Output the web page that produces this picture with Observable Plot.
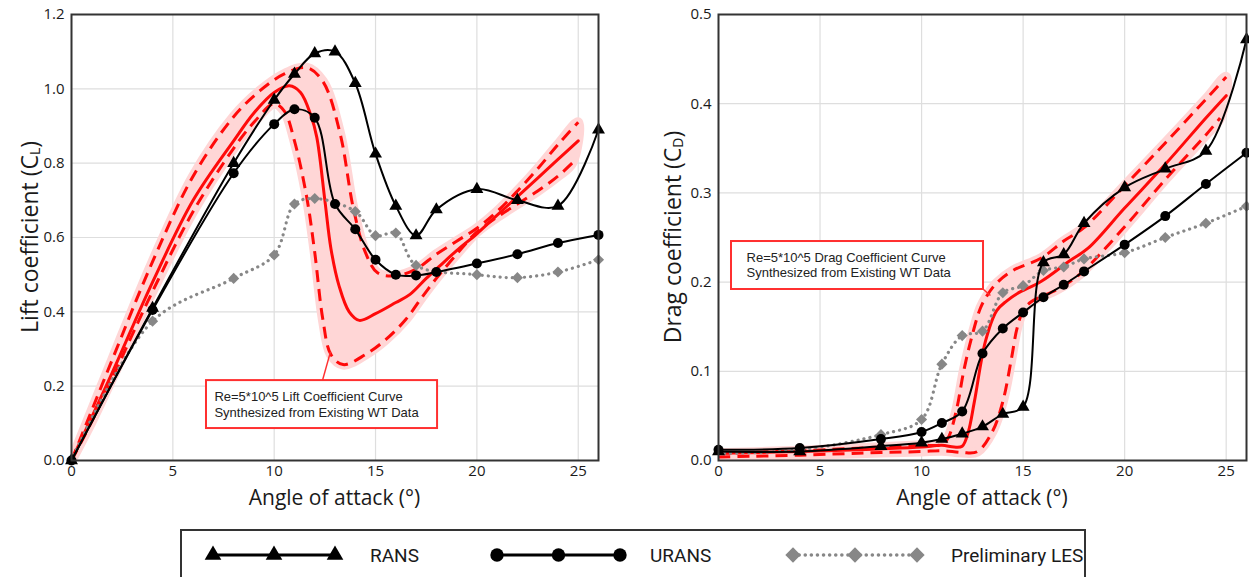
<!DOCTYPE html>
<html><head><meta charset="utf-8">
<script src="https://cdn.jsdelivr.net/npm/d3@7"></script>
<script src="https://cdn.jsdelivr.net/npm/@observablehq/plot@0.6"></script>
<style>
html,body{margin:0;padding:0;background:#fff;}
body{width:1249px;height:577px;overflow:hidden;position:relative;font-family:"Open Sans",sans-serif;}
#lift{position:absolute;left:0;top:0;}
#drag{position:absolute;left:647px;top:0;}
#legend{position:absolute;left:0;top:0;}
</style></head><body>
<div id="lift"></div><div id="drag"></div>
<svg id="legend" width="1249" height="577"></svg>
<script>
// ---------- shared ticks / labels ----------
const xTicks = [0, 5, 10, 15, 20, 25];
const liftTicks = [0, 0.2, 0.4, 0.6, 0.8, 1.0, 1.2];
const dragTicks = [0, 0.1, 0.2, 0.3, 0.4, 0.5];
const legendLabels = ["RANS", "URANS", "Preliminary LES"];

// ---------- Lift coefficient data [angle, CL] ----------
const liftRANS = [[0,0],[4,0.41],[8,0.80],[10,0.97],[11,1.04],[12,1.095],[13,1.10],[14,1.015],[15,0.825],[16,0.685],[17,0.605],[18,0.675],[20,0.73],[22,0.70],[24,0.685],[26,0.89]];
const liftURANS = [[0,0],[4,0.405],[8,0.773],[10,0.905],[11,0.945],[12,0.922],[13,0.69],[14,0.622],[15,0.54],[16,0.50],[17,0.498],[18,0.507],[20,0.53],[22,0.555],[24,0.585],[26,0.607]];
const liftLES = [[0,0],[4,0.375],[8,0.49],[10,0.553],[11,0.69],[12,0.705],[14,0.67],[15,0.605],[16,0.612],[17,0.525],[20,0.50],[22,0.492],[24,0.507],[26,0.54]];
const liftWT = [[0,0],[2,0.235],[4,0.48],[6,0.70],[8,0.86],[9,0.935],[10,0.99],[10.75,1.008],[11.3,0.99],[11.8,0.93],[12.1,0.87],[12.5,0.70],[12.8,0.57],[13.2,0.47],[13.7,0.40],[14.2,0.377],[15,0.395],[16,0.425],[16.7,0.447],[17.5,0.49],[18.2,0.525],[19,0.565],[20,0.61],[21,0.66],[22,0.71],[23,0.76],[24,0.81],[25,0.86]];
const liftWTUpper = [[0,0],[1,0.135],[2,0.27],[4,0.535],[6,0.765],[8,0.925],[9.3,0.995],[10.5,1.04],[11.6,1.057],[12.4,1.02],[13.25,0.88],[13.9,0.68],[14.5,0.56],[15.1,0.505],[16,0.497],[17,0.515],[18,0.555],[19,0.59],[20,0.625],[21,0.67],[22,0.725],[23,0.785],[24,0.85],[25,0.91]];
const liftWTLower = [[0,0],[1,0.105],[2,0.22],[4,0.455],[6,0.67],[8,0.84],[9,0.91],[10,0.96],[10.5,0.94],[11,0.86],[11.6,0.71],[12,0.56],[12.4,0.38],[12.8,0.285],[13.4,0.258],[14.5,0.285],[15.5,0.325],[16.5,0.38],[17.3,0.44],[18,0.49],[19,0.555],[20,0.615],[21,0.655],[22,0.69],[23,0.725],[24,0.765],[24.7,0.80]];
const liftNoteText = ["Re=5*10^5 Lift Coefficient Curve", "Synthesized from Existing WT Data"];

// ---------- Drag coefficient data [angle, CD] ----------
const dragRANS = [[0,0.01],[4,0.01],[8,0.016],[10,0.02],[11,0.024],[12,0.03],[13,0.038],[14,0.052],[15,0.06],[16,0.222],[17,0.231],[18,0.266],[20,0.306],[22,0.327],[24,0.347],[26,0.472]];
const dragURANS = [[0,0.012],[4,0.014],[8,0.024],[10,0.032],[11,0.042],[12,0.055],[13,0.12],[14,0.148],[15,0.166],[16,0.183],[17,0.197],[18,0.212],[20,0.242],[22,0.274],[24,0.31],[26,0.345]];
const dragLES = [[0,0.008],[4,0.012],[8,0.029],[10,0.046],[11,0.108],[12,0.14],[13,0.145],[14,0.188],[15,0.196],[16,0.213],[17,0.217],[18,0.226],[20,0.233],[22,0.25],[24,0.266],[26,0.285]];
const dragWT = [[0,0.008],[4,0.01],[8,0.013],[10,0.015],[11,0.017],[11.6,0.015],[12,0.016],[12.3,0.032],[12.6,0.066],[13.15,0.134],[13.7,0.168],[14.2,0.179],[14.7,0.187],[15.9,0.201],[17.3,0.224],[18.2,0.238],[20,0.283],[22,0.332],[24,0.384],[25,0.409]];
const dragWTUpper = [[0,0.008],[4,0.011],[8,0.015],[10,0.017],[11,0.018],[11.3,0.025],[11.7,0.055],[12.1,0.103],[12.5,0.141],[12.9,0.171],[13.2,0.184],[13.7,0.199],[14.5,0.213],[15.9,0.227],[17,0.246],[18,0.261],[20,0.308],[22,0.356],[24,0.405],[25,0.43]];
const dragWTLower = [[0,0.004],[4,0.006],[8,0.009],[10,0.01],[11,0.011],[12,0.009],[12.75,0.01],[13.5,0.033],[14,0.066],[14.4,0.111],[14.7,0.148],[15,0.168],[15.4,0.178],[16.7,0.192],[17.8,0.209],[20,0.262],[22,0.315],[24,0.365],[24.7,0.384]];
const dragNoteText = ["Re=5*10^5 Drag Coefficient Curve", "Synthesized from Existing WT Data"];

// ---------- helpers ----------
const P = arr => arr.map(([a, v]) => ({a, v}));
const RED = "#ff0a0a", PINK = "#ffd6d6", GRAY = "#878787", NOTE = "#ff3030";

function makeChart(cfg) {
  const band = P(cfg.upper).concat(P(cfg.lower).reverse());
  const svg = Plot.plot({
    width: cfg.width, height: 520,
    marginLeft: 71, marginRight: cfg.marginRight, marginTop: 14, marginBottom: 60,
    style: {fontFamily: "'Open Sans', sans-serif", fontSize: "15px", color: "#1a1a1a", background: "white"},
    x: {domain: [0, 26], label: null},
    y: {domain: [0, cfg.yMax], label: null},
    marks: [
      Plot.gridX(xTicks, {stroke: "#dedede", strokeOpacity: 1, strokeWidth: 1.2}),
      Plot.gridY(cfg.yTicks, {stroke: "#dedede", strokeOpacity: 1, strokeWidth: 1.2}),
      Plot.line(band, {x: "a", y: "v", fill: PINK, stroke: PINK, strokeWidth: 10, curve: "catmull-rom", clip: true}),
      Plot.line(P(cfg.upper), {x: "a", y: "v", stroke: RED, strokeWidth: 3, strokeDasharray: "12,7", strokeLinecap: "butt", curve: "catmull-rom"}),
      Plot.line(P(cfg.lower), {x: "a", y: "v", stroke: RED, strokeWidth: 3, strokeDasharray: "12,7", strokeLinecap: "butt", curve: "catmull-rom"}),
      Plot.line(P(cfg.center), {x: "a", y: "v", stroke: RED, strokeWidth: 3, curve: "catmull-rom"}),
      Plot.line(P(cfg.les), {x: "a", y: "v", stroke: GRAY, strokeWidth: 3.2, strokeDasharray: "0.1,6", strokeLinecap: "round", curve: "catmull-rom"}),
      Plot.dot(P(cfg.les).filter(d => d.a > 0), {x: "a", y: "v", symbol: "diamond2", r: 5, fill: GRAY, stroke: "none"}),
      Plot.line(P(cfg.urans), {x: "a", y: "v", stroke: "#000", strokeWidth: 2, curve: "catmull-rom"}),
      Plot.dot(P(cfg.urans), {x: "a", y: "v", r: 5, fill: "#000", stroke: "none"}),
      Plot.line(P(cfg.rans), {x: "a", y: "v", stroke: "#000", strokeWidth: 2, curve: "catmull-rom"}),
      Plot.dot(P(cfg.rans), {x: "a", y: "v", symbol: "triangle", r: 4.8, fill: "#000", stroke: "none"}),
      Plot.link([cfg.leader], {x1: "x1", y1: "y1", x2: "x2", y2: "y2", stroke: NOTE, strokeWidth: 1.5}),
      Plot.rect([cfg.box], {x1: "x1", x2: "x2", y1: "y1", y2: "y2", fill: "white", stroke: NOTE, strokeWidth: 2}),
      Plot.text(cfg.noteLines, {x: "a", y: "v", text: "t", textAnchor: "start", fontSize: 13, fontFamily: "'Liberation Sans', Arial, sans-serif", fill: "#222"}),
      Plot.axisX(xTicks, {tickSize: 0, tickPadding: 5, fontSize: 15, label: null}),
      Plot.axisY(cfg.yTicks, {tickSize: 0, tickPadding: 7, fontSize: 15, tickFormat: d3.format(".1f"), label: null}),
      Plot.frame({stroke: "#333", strokeWidth: 2})
    ]
  });
  const s = d3.select(svg);
  const fx = (71 + cfg.width - cfg.marginRight) / 2;
  s.append("text").attr("x", fx).attr("y", 497).attr("text-anchor", "middle").attr("dominant-baseline", "central")
    .attr("font-size", 21).attr("fill", "#1a1a1a").attr("font-family", "'Open Sans', sans-serif")
    .text("Angle of attack (°)");
  const t = s.append("text").attr("transform", `translate(${cfg.yTitleX},237) rotate(-90)`)
    .attr("text-anchor", "middle").attr("dominant-baseline", "central")
    .attr("font-size", 23).attr("fill", "#1a1a1a").attr("font-family", "'Open Sans', sans-serif");
  t.append("tspan").text(cfg.yTitle + " (C");
  t.append("tspan").attr("font-size", 14).attr("dy", 5).text(cfg.ySub);
  t.append("tspan").attr("dy", -5).text(")");
  return svg;
}

document.getElementById("lift").appendChild(makeChart({
  width: 620, marginRight: 22, yMax: 1.2, yTicks: liftTicks,
  rans: liftRANS, urans: liftURANS, les: liftLES,
  center: liftWT, upper: liftWTUpper, lower: liftWTLower,
  box: {x1: 6.66, x2: 18.06, y1: 0.086, y2: 0.215},
  leader: {x1: 12.38, y1: 0.215, x2: 12.78, y2: 0.293},
  noteLines: liftNoteText.map((t, i) => ({a: 7.05, v: [0.172, 0.129][i], t})),
  yTitle: "Lift coefficient", ySub: "L", yTitleX: 29
}));

document.getElementById("drag").appendChild(makeChart({
  width: 602, marginRight: 3, yMax: 0.5, yTicks: dragTicks,
  rans: dragRANS, urans: dragURANS, les: dragLES,
  center: dragWT, upper: dragWTUpper, lower: dragWTLower,
  box: {x1: 0.64, x2: 13.05, y1: 0.1917, y2: 0.2455},
  leader: {x1: 13.05, y1: 0.1917, x2: 13.39, y2: 0.185},
  noteLines: dragNoteText.map((t, i) => ({a: 1.38, v: [0.2276, 0.2108][i], t})),
  yTitle: "Drag coefficient", ySub: "D", yTitleX: 25
}));

// ---------- legend ----------
const lg = d3.select("#legend");
lg.append("rect").attr("x", 181).attr("y", 530).attr("width", 904).attr("height", 70)
  .attr("fill", "white").attr("stroke", "#333").attr("stroke-width", 2);
const ly = 555;
const items = [
  {label: legendLabels[0], x0: 213, x1: 335, tx: 370, sym: d3.symbolTriangle, size: 120, color: "#000", dash: null, w: 3},
  {label: legendLabels[1], x0: 497, x1: 620, tx: 650, sym: d3.symbolCircle, size: 140, color: "#000", dash: null, w: 3},
  {label: legendLabels[2], x0: 793, x1: 917, tx: 951, sym: d3.symbolDiamond2, size: 150, color: GRAY, dash: "0.1,6", w: 3.5}
];
for (const it of items) {
  lg.append("line").attr("x1", it.x0).attr("x2", it.x1).attr("y1", ly).attr("y2", ly)
    .attr("stroke", it.color).attr("stroke-width", it.w).attr("stroke-linecap", it.dash ? "round" : "butt")
    .attr("stroke-dasharray", it.dash);
  for (const x of [it.x0, (it.x0 + it.x1) / 2, it.x1]) {
    lg.append("path").attr("d", d3.symbol(it.sym, it.size)()).attr("transform", `translate(${x},${ly})`).attr("fill", it.color);
  }
  lg.append("text").attr("x", it.tx).attr("y", ly).attr("dominant-baseline", "central")
    .attr("font-size", 19).attr("font-family", "Roboto, 'Open Sans', sans-serif").attr("fill", "#1a1a1a")
    .text(it.label);
}
</script>
</body></html>
